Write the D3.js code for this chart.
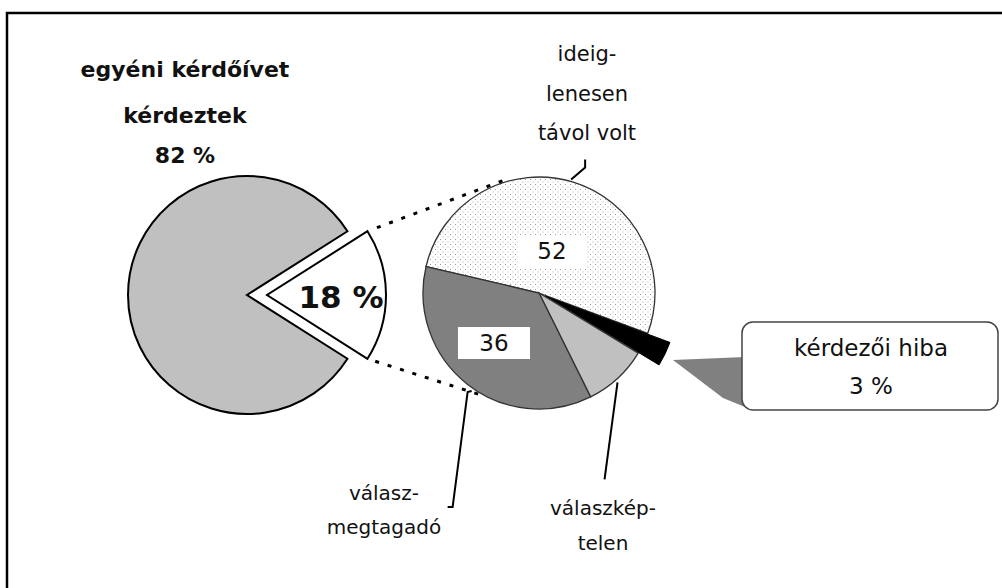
<!DOCTYPE html>
<html>
<head>
<meta charset="utf-8">
<script src="https://cdn.jsdelivr.net/npm/d3@7"></script>
<style>
  html, body { margin: 0; padding: 0; background: #fff; }
  svg { display: block; }
  text { font-family: "DejaVu Sans", sans-serif; fill: #111; }
</style>
</head>
<body>
<svg id="chart" width="1002" height="588"></svg>
<script>
// ---- data ----
const outerCategories = ["nem kérdeztek", "egyéni kérdőívet kérdeztek"];
const outerValues = [18, 82];
const outerLabels = ["18 %", "82 %"];

const innerCategories = ["ideiglenesen távol volt", "kérdezői hiba", "válaszképtelen", "válaszmegtagadó"];
const innerValues = [52, 3, 9, 36];
const innerValueLabels = ["52", "3 %", "", "36"];

const titleLines = ["egyéni kérdőívet", "kérdeztek", "82 %"];
const tavolLines = ["ideig-", "lenesen", "távol volt"];
const megtagadoLines = ["válasz-", "megtagadó"];
const kepLines = ["válaszkép-", "telen"];
const hibaLines = ["kérdezői hiba", "3 %"];

// ---- setup ----
const svg = d3.select("#chart");
const deg = Math.PI / 180;

// frame (left + top only visible)
svg.append("path").attr("d", "M7,588 L7,13 L1002,13")
  .attr("fill", "none").attr("stroke", "#000").attr("stroke-width", 2.5);

// dotted pattern
const defs = svg.append("defs");
const pat = defs.append("pattern").attr("id", "dots").attr("patternUnits", "userSpaceOnUse")
  .attr("width", 5).attr("height", 5);
pat.append("rect").attr("width", 5).attr("height", 5).attr("fill", "#fff");
pat.append("rect").attr("x", 1).attr("y", 1).attr("width", 1).attr("height", 1).attr("fill", "#9a9a9a");
pat.append("rect").attr("x", 3.5).attr("y", 3.5).attr("width", 1).attr("height", 1).attr("fill", "#b5b5b5");

// ---- left pie ----
const L = { cx: 247, cy: 295, r: 119 };
const outerPie = d3.pie().sort(null)
  .startAngle(Math.PI / 2 - outerValues[0] / 100 * Math.PI)
  .endAngle(Math.PI / 2 - outerValues[0] / 100 * Math.PI + 2 * Math.PI);
const outerArcs = outerPie(outerValues);
const arcL = d3.arc().innerRadius(0).outerRadius(L.r);
const outerFill = ["#fff", "#c0c0c0"];
const explodeL = 20;
const gL = svg.append("g").attr("transform", `translate(${L.cx},${L.cy})`);
gL.selectAll("path").data(outerArcs).join("path")
  .attr("d", arcL)
  .attr("transform", (d, i) => {
    if (i !== 0) return null;
    const m = (d.startAngle + d.endAngle) / 2;
    return `translate(${explodeL * Math.sin(m)},${-explodeL * Math.cos(m)})`;
  })
  .attr("fill", (d, i) => outerFill[i])
  .attr("stroke", "#000").attr("stroke-width", 2).attr("stroke-linejoin", "miter");

// 18 % label
gL.append("text").text(outerLabels[0])
  .attr("x", 94).attr("y", 13).attr("text-anchor", "middle")
  .attr("font-size", 31).attr("font-weight", "bold");

// title
svg.append("g").selectAll("text").data(titleLines).join("text")
  .attr("x", 185).attr("y", (d, i) => [77, 123, 163][i])
  .attr("text-anchor", "middle").attr("font-size", 22).attr("font-weight", "bold")
  .text(d => d);

// ---- right pie ----
const R = { cx: 539, cy: 293, r: 116 };
const innerPie = d3.pie().sort(null)
  .startAngle(283.2 * deg).endAngle(283.2 * deg + 2 * Math.PI);
const innerArcs = innerPie(innerValues);
const arcR = d3.arc().innerRadius(0).outerRadius(R.r);
const arcRBig = d3.arc().innerRadius(0).outerRadius(R.r + 17);
const innerFill = ["url(#dots)", "#000", "#c0c0c0", "#808080"];
const gR = svg.append("g").attr("transform", `translate(${R.cx},${R.cy})`);

// connector dotted lines (from exploded slice corners to right pie)
const exSlice = outerArcs[0];
const exMid = (exSlice.startAngle + exSlice.endAngle) / 2;
const exOff = [explodeL * Math.sin(exMid), -explodeL * Math.cos(exMid)];
const cornerTop = [L.cx + exOff[0] + L.r * Math.sin(exSlice.startAngle), L.cy + exOff[1] - L.r * Math.cos(exSlice.startAngle)];
const cornerBot = [L.cx + exOff[0] + L.r * Math.sin(exSlice.endAngle), L.cy + exOff[1] - L.r * Math.cos(exSlice.endAngle)];
const connAngles = [342 * deg, 211 * deg];
const connEnds = connAngles.map(a => [R.cx + (R.r + 2) * Math.sin(a), R.cy - (R.r + 2) * Math.cos(a)]);
[[cornerTop, connEnds[0]], [cornerBot, connEnds[1]]].forEach(([a, b]) => {
  const t0 = 0.07;
  svg.append("line")
    .attr("x1", a[0] + (b[0] - a[0]) * t0).attr("y1", a[1] + (b[1] - a[1]) * t0)
    .attr("x2", b[0]).attr("y2", b[1])
    .attr("stroke", "#000").attr("stroke-width", 3).attr("stroke-dasharray", "4,9");
});

gR.selectAll("path").data(innerArcs).join("path")
  .attr("d", (d, i) => i === 1 ? arcRBig(d) : arcR(d))
  .attr("transform", (d, i) => {
    if (i !== 1) return null;
    const m = (d.startAngle + d.endAngle) / 2;
    return `translate(${7 * Math.sin(m)},${-7 * Math.cos(m)})`;
  })
  .attr("fill", (d, i) => innerFill[i])
  .attr("stroke", (d, i) => i === 1 ? "#000" : "#333")
  .attr("stroke-width", (d, i) => i === 1 ? 1 : 1.3);

// value labels with white boxes
gR.append("rect").attr("x", -21).attr("y", -57).attr("width", 68).attr("height", 33).attr("fill", "#fff");
gR.append("text").text(innerValueLabels[0]).attr("x", 13).attr("y", -34)
  .attr("text-anchor", "middle").attr("font-size", 23);
gR.append("rect").attr("x", -81).attr("y", 34).attr("width", 72).attr("height", 32).attr("fill", "#fff");
gR.append("text").text(innerValueLabels[3]).attr("x", -45).attr("y", 58)
  .attr("text-anchor", "middle").attr("font-size", 23);

// leader lines
function polar(a, r) { return [R.cx + r * Math.sin(a * deg), R.cy - r * Math.cos(a * deg)]; }
const line = d3.line();
const p1 = polar(15.8, R.r + 2);
svg.append("path").attr("d", line([p1, [p1[0] + 14, p1[1] - 12], [p1[0] + 14, p1[1] - 20]]))
  .attr("fill", "none").attr("stroke", "#000").attr("stroke-width", 2);
const p2 = polar(215.8, R.r + 6);
svg.append("path").attr("d", line([[p2[0] + 4, p2[1] - 1], p2, [p2[0] - 15, p2[1] + 115], [p2[0] - 20, p2[1] + 115]]))
  .attr("fill", "none").attr("stroke", "#000").attr("stroke-width", 2);
const p3 = polar(138.7, R.r + 3);
svg.append("path").attr("d", line([p3, [p3[0] - 13, p3[1] + 97]]))
  .attr("fill", "none").attr("stroke", "#000").attr("stroke-width", 2);

// labels
function lines(arr, x, ys, size) {
  svg.append("g").selectAll("text").data(arr).join("text")
    .attr("x", x).attr("y", (d, i) => ys[i]).attr("text-anchor", "middle")
    .attr("font-size", size).text(d => d);
}
lines(tavolLines, 587, [61, 101, 140], 21);
lines(megtagadoLines, 384, [500, 534], 20);
lines(kepLines, 603, [515, 550], 20);

// callout
svg.append("path").attr("d", line([[673, 360], [745, 357], [745, 407], [723, 398]]))
  .attr("fill", "#808080");
svg.append("rect").attr("x", 742).attr("y", 322).attr("width", 256).attr("height", 88)
  .attr("rx", 11).attr("fill", "#fff").attr("stroke", "#444").attr("stroke-width", 1.5);
lines(hibaLines, 871, [356, 394], 23);
</script>
</body>
</html>
